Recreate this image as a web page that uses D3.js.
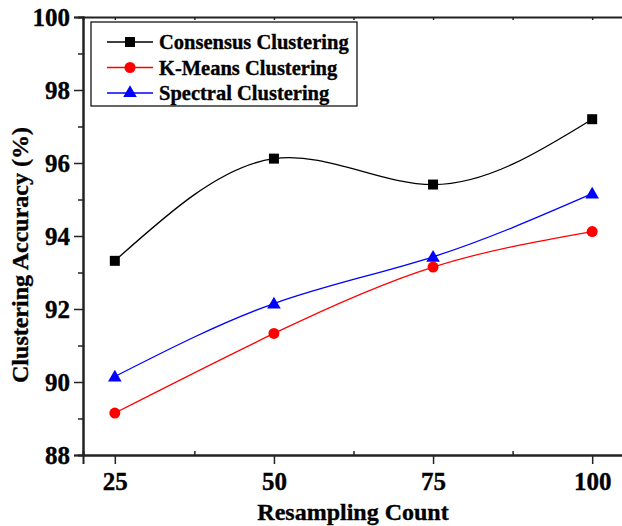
<!DOCTYPE html>
<html lang="en">
<head>
<meta charset="UTF-8">
<title>Clustering Accuracy vs Resampling Count</title>
<script src="https://d3js.org/d3.v7.min.js"></script>
<style>
    body { margin: 0; background: #fff; }
    svg { display: block; font-family: "Liberation Serif", "Times New Roman", serif; font-weight: bold; }
    .heavy { stroke: #000; stroke-width: 0.35px; }
</style>
</head>
<body>
<svg width="622" height="526"></svg>
<script>
// data
const counts = [25, 50, 75, 100];
const consensus = [93.32, 96.12, 95.41, 97.20];
const kmeans = [89.15, 91.33, 93.15, 94.12];
const spectral = [90.15, 92.15, 93.43, 95.16];
const seriesNames = ["Consensus Clustering", "K-Means Clustering", "Spectral Clustering"];
const xTicks = [25, 50, 75, 100];
const yTicks = [88, 90, 92, 94, 96, 98, 100];

const svg = d3.select("svg");
const x = d3.scaleLinear().domain([20, 105]).range([83, 624]);
const y = d3.scaleLinear().domain([88, 100]).range([455, 17]);

const series = [
    { name: seriesNames[0], values: consensus, color: "#000", shape: d3.symbolSquare, size: 100 },
    { name: seriesNames[1], values: kmeans, color: "#ff0000", shape: d3.symbolCircle, size: 95 },
    { name: seriesNames[2], values: spectral, color: "#0000ff", shape: d3.symbolTriangle, size: 80 }
];

// axes
const xAxis = svg.append("g").attr("transform", `translate(0,${y(88)})`)
    .call(d3.axisBottom(x).tickValues(xTicks).tickSize(9).tickPadding(8));
const yAxis = svg.append("g").attr("transform", `translate(${x(20)},0)`)
    .call(d3.axisLeft(y).tickValues(yTicks).tickSize(9).tickPadding(4));

// minor ticks
svg.append("g").attr("transform", `translate(0,${y(88)})`)
    .call(d3.axisBottom(x).tickValues([37.5, 62.5, 87.5]).tickSize(-4).tickFormat(""));
svg.append("g").attr("transform", `translate(${x(20)},0)`)
    .call(d3.axisLeft(y).tickValues([89, 91, 93, 95, 97, 99]).tickSize(5).tickFormat(""));
// top frame
svg.append("g").attr("transform", `translate(0,${y(100)})`)
    .call(d3.axisTop(x).tickValues(xTicks.concat([37.5, 62.5, 87.5])).tickSize(-3).tickFormat(""));

svg.selectAll(".domain").attr("stroke", "#222").attr("stroke-width", 2);
svg.selectAll(".tick line").attr("stroke", "#222").attr("stroke-width", 1.5);
svg.selectAll(".tick text").attr("font-size", 25).attr("font-family", "Liberation Serif")
    .attr("font-weight", "bold").attr("fill", "#000").attr("class", "heavy");
yAxis.selectAll(".tick text").attr("dy", "0.34em");

// axis titles
svg.append("text").attr("class", "heavy").attr("x", 353).attr("y", 520).attr("text-anchor", "middle")
    .attr("font-size", 24).text("Resampling Count");
svg.append("text").attr("class", "heavy").attr("transform", "translate(28,255) rotate(-90)")
    .attr("text-anchor", "middle").attr("font-size", 24).text("Clustering Accuracy (%)");

// lines and markers
const line = d3.line().x((d, i) => x(counts[i])).y(d => y(d)).curve(d3.curveNatural);
series.forEach(s => {
    svg.append("path").attr("d", line(s.values)).attr("fill", "none")
        .attr("stroke", s.color).attr("stroke-width", 1.3);
    svg.selectAll(null).data(s.values).enter().append("path")
        .attr("d", d3.symbol().type(s.shape).size(s.size))
        .attr("transform", (d, i) => `translate(${x(counts[i])},${y(d) + (s.shape === d3.symbolTriangle ? 1 : 0)})`)
        .attr("fill", s.color);
});

// legend
const legend = svg.append("g");
legend.append("rect").attr("x", 91).attr("y", 22).attr("width", 266).attr("height", 84)
    .attr("fill", "#fff").attr("stroke", "#000").attr("stroke-width", 1.2);
series.forEach((s, i) => {
    const ly = 42 + i * 25.5;
    legend.append("line").attr("x1", 107).attr("x2", 153).attr("y1", ly).attr("y2", ly)
        .attr("stroke", s.color).attr("stroke-width", 1.3);
    legend.append("path").attr("d", d3.symbol().type(s.shape).size(s.size))
        .attr("transform", `translate(130,${ly})`).attr("fill", s.color);
    legend.append("text").attr("class", "heavy").attr("x", 159).attr("y", ly).attr("dy", "0.35em")
        .attr("font-size", 20.5).text(s.name);
});
</script>
</body>
</html>
